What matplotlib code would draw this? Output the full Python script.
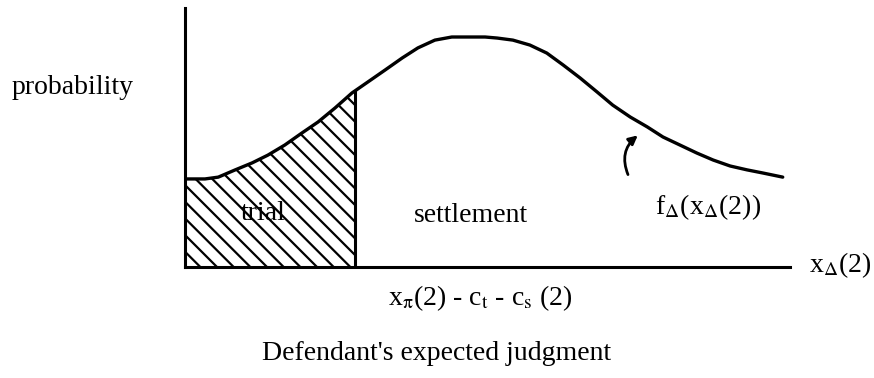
import numpy as np
import matplotlib
matplotlib.use("Agg")
import matplotlib.pyplot as plt
from matplotlib.patches import Rectangle, Polygon

plt.rcParams["font.family"] = ["Liberation Serif", "DejaVu Serif"]
plt.rcParams["mathtext.fontset"] = "stix"
plt.rcParams["hatch.linewidth"] = 1.6

# density curve (x: judgment, y: probability, both 0..100)
curve_x = [0.0, 3.3, 5.5, 8.3, 11.1, 13.7, 16.5, 19.3, 22.0, 24.8, 27.6,
           30.2, 33.1, 35.9, 38.5, 41.3, 44.1, 46.8, 49.6, 51.6, 54.2,
           57.0, 59.8, 62.5, 65.3, 68.1, 70.7, 73.6, 76.4, 79.0, 81.8,
           84.6, 87.3, 90.1, 92.9, 95.5, 98.8]
curve_y = [34.0, 34.0, 34.7, 37.5, 40.2, 43.2, 47.1, 51.7, 56.0, 61.4, 67.2,
           71.4, 76.1, 80.7, 84.6, 87.6, 88.8, 88.8, 88.8, 88.4, 87.6,
           85.7, 82.6, 78.0, 73.0, 67.6, 62.5, 57.9, 54.1, 50.2, 47.1,
           44.0, 41.3, 39.0, 37.5, 36.3, 34.7]
cutoff = 28.1   # x_pi(2) - c_t - c_s(2)

fig = plt.figure(figsize=(8.74, 3.78), dpi=100)
ax = fig.add_axes([185 / 874, 111 / 378, 605 / 874, 259 / 378])

xs = np.array(curve_x)
ys = np.array(curve_y)

# hatched "trial" region: area under the curve left of the cutoff
area = ax.fill_between(xs, 0, ys, facecolor="white", edgecolor="black",
                       hatch="\\\\", lw=0)
area.set_clip_path(Rectangle((0, 0), cutoff, 100, transform=ax.transData))
under = Polygon(np.vstack([[xs[0], 0], np.column_stack([xs, ys]),
                           [xs[-1], 0]]), closed=True,
                transform=ax.transData)
edge = ax.axvline(cutoff, color="black", lw=2.2)
edge.set_clip_path(under)

ax.plot(xs, ys, color="black", lw=2.4, solid_capstyle="round",
        solid_joinstyle="round")

ax.set_xlim(0, 100)
ax.set_ylim(0, 100)
ax.set_xticks([])
ax.set_yticks([])
for s in ("top", "right"):
    ax.spines[s].set_visible(False)
for s in ("left", "bottom"):
    ax.spines[s].set_linewidth(2.2)

fs = 20
ax.text(12.9, 20.5, "trial", fontsize=fs, ha="center", va="center")
ax.text(47.3, 20.0, "settlement", fontsize=fs, ha="center", va="center")
ax.text(86.5, 23.0, r"f$_\Delta$(x$_\Delta$(2))", fontsize=fs,
        ha="center", va="center")
ax.annotate("", xy=(75.2, 51.5), xytext=(73.4, 34.7),
            arrowprops=dict(arrowstyle="-|>", color="black", lw=2.0,
                            mutation_scale=13,
                            connectionstyle="arc3,rad=-0.4"))

fig.text(73 / 874, 1 - 87 / 378, "probability", fontsize=fs,
         ha="center", va="center")
fig.text(840 / 874, 1 - 265 / 378, r"x$_\Delta$(2)", fontsize=fs,
         ha="center", va="center")
fig.text(480 / 874, 1 - 298 / 378,
         r"x$_\mathrm{π}$(2) - c$_\mathrm{t}$ - c$_\mathrm{s}$ (2)",
         fontsize=fs, ha="center", va="center")
fig.text(437 / 874, 1 - 353 / 378, "Defendant's expected judgment",
         fontsize=fs, ha="center", va="center")

fig.savefig("out.png", dpi=100)
